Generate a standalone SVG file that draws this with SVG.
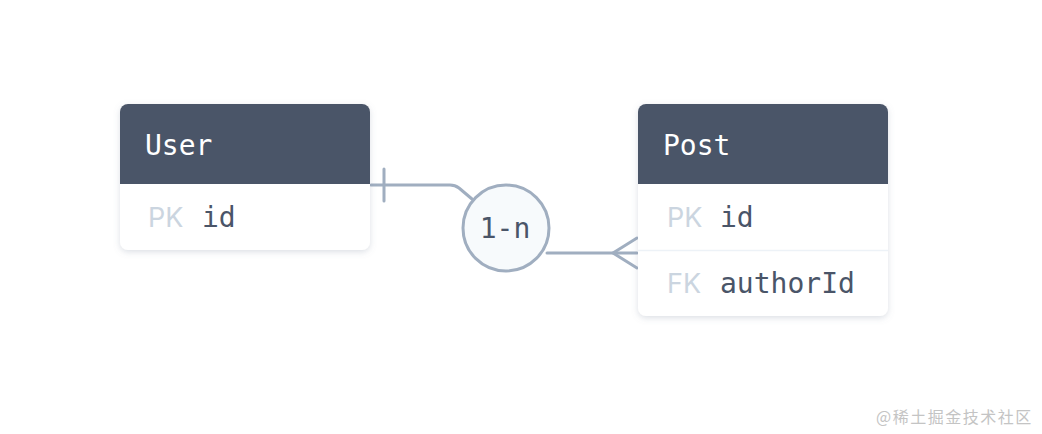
<svg xmlns="http://www.w3.org/2000/svg" width="1042" height="434" viewBox="0 0 1042 434">
<style>
.card{fill:#ffffff;filter:url(#sh);}
.head{fill:#4a5568;}
.title{font-family:"DejaVu Sans Mono",monospace;font-size:28px;fill:#ffffff;}
.field{font-family:"DejaVu Sans Mono",monospace;font-size:28px;fill:#4a5568;}
.key{font-family:"Inter","Liberation Sans",sans-serif;font-size:27px;fill:#cbd5e0;}
.conn{fill:none;stroke:#a0aec0;stroke-width:3;stroke-linecap:round;stroke-linejoin:round;}
.wm{font-family:"Noto Sans CJK SC",sans-serif;font-size:16px;fill:#c4c4c4;letter-spacing:1.5px;}
</style>
<defs>
<filter id="sh" x="-10%" y="-10%" width="120%" height="130%">
<feDropShadow dx="0" dy="2" stdDeviation="3" flood-color="#718096" flood-opacity="0.25"/>
</filter>
</defs>
<rect width="1042" height="434" fill="#ffffff"/>
<g id="connectors">
<path class="conn" d="M371,185 H450 Q455,185 459,188 L472,199"/>
<line class="conn" x1="384" y1="169" x2="384" y2="201"/>
<path class="conn" d="M547,253 H637"/>
<path class="conn" d="M637,238 L613,253 L637,268"/>
</g>
<g id="user">
<rect class="card" x="120" y="104" width="250" height="146" rx="8"/>
<path class="head" d="M128,104 H362 A8,8 0 0 1 370,112 V184 H120 V112 A8,8 0 0 1 128,104 Z"/>
<text class="title" x="145" y="155">User</text>
<text class="key" x="148" y="227">PK</text>
<text class="field" x="202" y="227">id</text>
</g>
<g id="post">
<rect class="card" x="638" y="104" width="250" height="212" rx="8"/>
<path class="head" d="M646,104 H880 A8,8 0 0 1 888,112 V184 H638 V112 A8,8 0 0 1 646,104 Z"/>
<line x1="638" y1="250.5" x2="888" y2="250.5" stroke="#edf2f7" stroke-width="1.5"/>
<text class="title" x="663" y="155">Post</text>
<text class="key" x="667" y="227">PK</text>
<text class="field" x="720" y="227">id</text>
<text class="key" x="667" y="293">FK</text>
<text class="field" x="720" y="293">authorId</text>
</g>
<g id="relation">
<circle cx="506" cy="228" r="43" fill="#f7fafc" stroke="#a0aec0" stroke-width="3"/>
<text class="field" x="505" y="238" text-anchor="middle" font-size="26">1-n</text>
</g>
<text class="wm" x="876" y="423">@稀土掘金技术社区</text>
</svg>
